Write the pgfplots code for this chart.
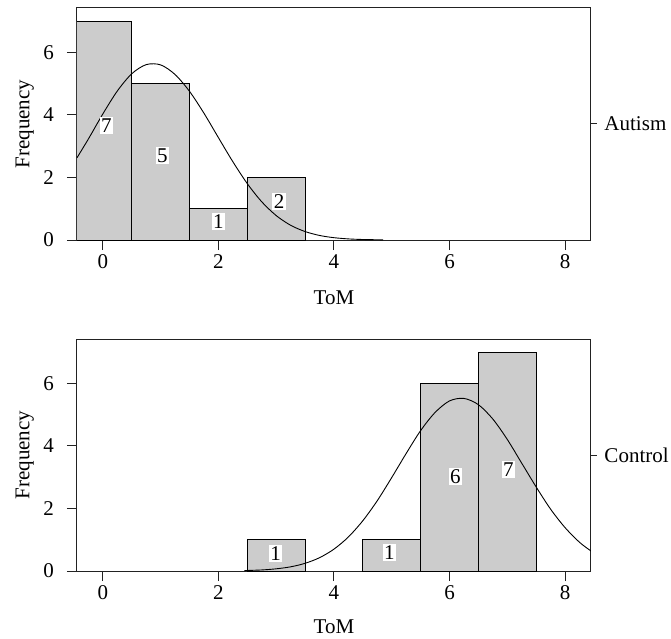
\documentclass[border=0pt]{standalone}
\usepackage{fontspec}
\setmainfont{Liberation Serif}
\usepackage{pgfplots}
\pgfplotsset{compat=1.18}
\definecolor{barfill}{HTML}{CCCCCC}
\definecolor{axcol}{HTML}{222222}
\pgfplotsset{
  hist/.style={
    scale only axis, width=514bp, height=232bp,
    xmin=-0.45, xmax=8.45, ymin=0, ymax=7.42,
    xtick={0,2,4,6,8}, ytick={0,2,4,6},
    tick align=outside, xtick pos=left, ytick pos=left,
    major tick length=10bp,
    xlabel={ToM}, ylabel={Frequency},
    axis line style={line width=1bp, axcol},
    tick style={line width=1bp, axcol},
    /pgf/number format/assume math mode=true,
    yticklabel style={xshift=-9.5bp},
    xticklabel style={yshift=-1bp},
    every axis x label/.style={at={(rel axis cs:0.5,0)}, anchor=north, inner sep=0pt, yshift=-50.5bp},
    every axis y label/.style={at={(rel axis cs:0,0.5)}, xshift=-43bp, rotate=90, anchor=south, inner sep=0pt},
  },
  barstyle/.style={ybar, bar width=1, bar shift=0pt, fill=barfill, draw=black, line width=0.9bp},
  curvestyle/.style={black, line width=0.9bp, smooth, mark=none},
}
\tikzset{lab/.style={fill=white, inner sep=1.5bp}}
\begin{document}
\begin{tikzpicture}[font=\fontsize{21bp}{25bp}\selectfont]
\begin{axis}[hist, name=top]
\addplot[barstyle] coordinates {(0,7) (1,5) (2,1) (3,2)};
\addplot[curvestyle] coordinates {
(-0.45,2.63) (-0.25,3.24) (0,4.04) (0.25,4.77) (0.5,5.32) (0.75,5.61) (1.0,5.60)
(1.25,5.29) (1.5,4.75) (1.75,4.05) (2.0,3.27) (2.25,2.50) (2.5,1.80) (2.75,1.22)
(3.0,0.78) (3.25,0.47) (3.5,0.27) (3.75,0.145) (4.0,0.074) (4.25,0.035) (4.5,0.016) (4.85,0.005)};
\node[lab] at (axis cs:0.06,3.67) {7};
\node[lab] at (axis cs:1.03,2.69) {5};
\node[lab] at (axis cs:2.0,0.58) {1};
\node[lab] at (axis cs:3.05,1.22) {2};
\end{axis}
\draw[line width=1bp, axcol] (top.east) -- ++(6bp,0) node[anchor=west, inner sep=0pt, xshift=7bp, text=black] {Autism};
\begin{axis}[hist, name=bot, at={(0,-331bp)},
    every axis x label/.style={at={(rel axis cs:0.5,0)}, anchor=north, inner sep=0pt, yshift=-48.5bp}]
\addplot[barstyle] coordinates {(3,1) (5,1) (6,6) (7,7)};
\addplot[curvestyle] coordinates {
(2.45,0.014) (2.75,0.034) (3.0,0.070) (3.25,0.134) (3.5,0.246) (3.75,0.426)
(4.0,0.700) (4.25,1.09) (4.5,1.61) (4.75,2.25) (5.0,2.99) (5.25,3.76) (5.5,4.49)
(5.75,5.07) (6.0,5.44) (6.25,5.52) (6.5,5.32) (6.75,4.86) (7.0,4.21) (7.25,3.45)
(7.5,2.69) (7.75,1.98) (8.0,1.39) (8.25,0.92) (8.45,0.64)};
\node[lab] at (axis cs:2.99,0.56) {1};
\node[lab] at (axis cs:4.96,0.59) {1};
\node[lab] at (axis cs:6.1,3.03) {6};
\node[lab] at (axis cs:7.02,3.24) {7};
\end{axis}
\draw[line width=1bp, axcol] (bot.east) -- ++(6bp,0) node[anchor=west, inner sep=0pt, xshift=7bp, text=black] {Control};
\path (top.north west) ++(-77bp,8bp);
\path (bot.south west) ++(594bp,-67.3bp);
\end{tikzpicture}
\end{document}
